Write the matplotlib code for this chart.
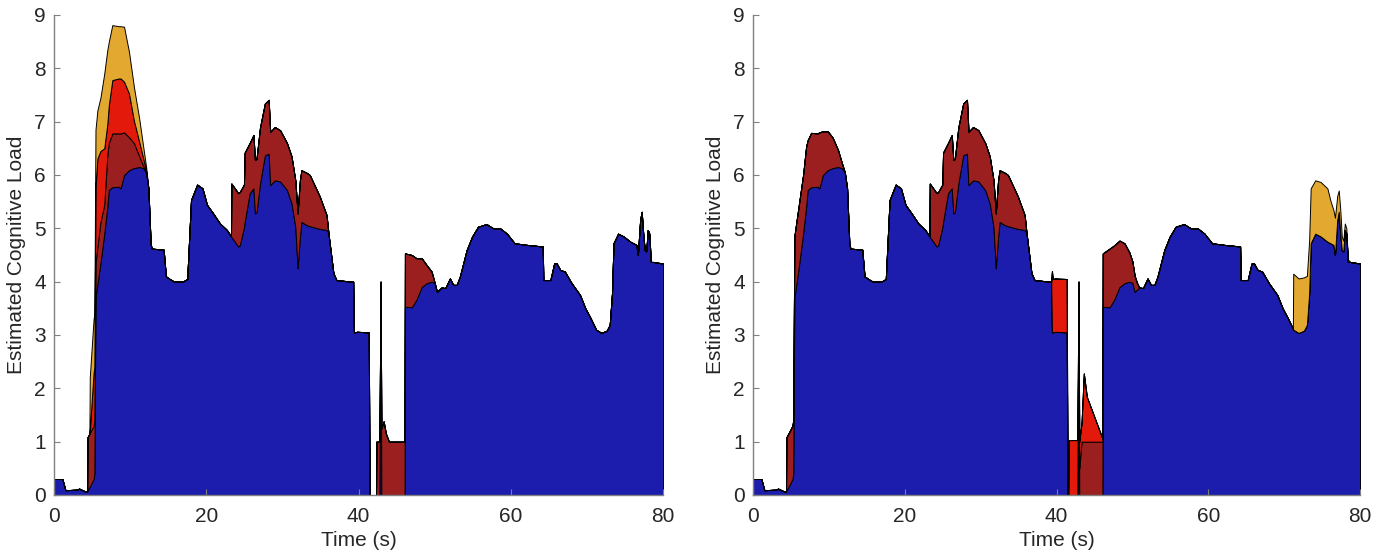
import matplotlib
matplotlib.use('Agg')
import matplotlib.pyplot as plt

# time axis (s), shared by both panels
t = [0.0, 1.1, 1.5, 3.0, 3.3, 4.2, 4.35, 4.40, 4.65, 4.70, 5.20, 5.30,
     5.45, 5.70, 6.10, 6.60, 7.00, 7.20, 7.66, 8.50, 8.75, 9.20, 9.85, 10.5, 11.2, 11.7, 12.1, 12.4,
     12.7, 12.85, 14.4, 14.7, 15.2, 15.8, 16.9, 17.5, 18.0, 18.8, 19.5, 20.1, 20.9, 21.8, 22.7, 23.25,
     23.3, 24.2, 24.4, 24.95, 25.05, 25.7, 26.2, 26.4, 26.6, 27.06, 27.7, 28.2, 28.4, 29.0, 29.7,
     30.6, 31.2, 31.7, 32.0, 32.3, 32.5, 33.2, 33.6, 34.9, 35.8, 36.0, 36.1,
     36.7, 37.1, 39.1, 39.3, 39.4, 39.5, 39.8, 41.35, 41.45, 41.55, 41.6, 42.3, 42.35, 42.75,
     42.9, 43.0, 43.3, 43.6, 44.0, 46.05,
     46.1, 47.0, 47.6, 48.3, 48.95, 49.6, 50.0, 50.3, 50.6, 50.9,
     51.4, 52.0, 52.45, 52.9, 53.3, 54.2, 54.9, 55.7, 56.8, 57.7, 58.6, 59.5, 60.5, 62.1, 64.2,
     64.28, 65.2, 65.7, 66.0, 66.5, 67.1, 68.0, 69.1, 69.8, 70.4, 71.15,
     71.2, 71.9, 72.6, 73.0, 73.3, 73.5, 74.1, 74.8, 75.7, 76.1, 76.5, 76.7, 77.0, 77.2, 77.4,
     77.6, 77.8, 78.0, 78.2, 78.4, 78.7, 80.0]

# base load (same in both panels)
blue = [0.30, 0.30, 0.09, 0.10, 0.12, 0.06, 0.07, 0.08, 0.15, 0.16, 0.30, 0.40,
        3.70, 3.95, 4.35, 4.90, 5.40, 5.72, 5.77, 5.78, 5.75, 6.00, 6.09, 6.13, 6.15, 6.13, 6.05, 5.75,
        4.70, 4.62, 4.60, 4.10, 4.05, 4.00, 4.00, 4.05, 5.53, 5.82, 5.75, 5.44, 5.28, 5.09, 4.97, 4.85,
        4.84, 4.66, 4.68, 5.02, 5.12, 5.66, 5.75, 5.28, 5.30, 5.84, 6.37, 6.40, 5.81, 5.90, 5.88,
        5.72, 5.47, 5.03, 4.25, 4.84, 5.12, 5.06, 5.04, 4.99, 4.97, 4.93, 4.85,
        4.16, 4.03, 4.00, 4.00, 3.05, 3.05, 3.06, 3.05, 0, 0, 0, 0, 0, 0,
        4.00, 0, 0, 0, 0, 0,
        3.53, 3.52, 3.66, 3.90, 3.97, 4.00, 3.98, 3.81, 3.85, 3.89,
        3.88, 4.06, 3.94, 3.94, 4.09, 4.59, 4.84, 5.03, 5.08, 5.00, 5.00, 4.90, 4.72, 4.69, 4.66,
        4.03, 4.03, 4.34, 4.35, 4.22, 4.19, 3.97, 3.75, 3.50, 3.34, 3.12,
        3.10, 3.04, 3.08, 3.19, 3.78, 4.72, 4.90, 4.85, 4.75, 4.72, 4.69, 4.50, 5.16, 5.31, 4.90,
        4.59, 4.57, 4.97, 4.90, 4.37, 4.37, 4.34]

dseg = [1.0, 1.0, 1.0, 0.80, 1.30, 0.94, 1.00, 1.00, 1.00, 1.05, 0.97, 1.01, 1.00, 1.00, 0.96,
        0.88, 0.88, 0.87, 1.03, 1.06, 0.97, 0.98, 0.96, 0.61, 0.28, 0.05, 0]

# left panel extra layers
dred_l = ([0] * 7 + [1.0] * 5 +
          [0.65, 0.70, 0.77, 0.54, 0.97, 0.88, 1.01, 1.00, 1.03, 0.80, 0.62, 0.47, 0.20, 0.05, 0, 0] +
          [0] * 16 + dseg +
          [0] * 12 + [1.0, 1.0, 0, 1.25, 1.38, 1.15, 1.0, 1.0] +
          [1.0, 0.98, 0.78, 0.54, 0.34, 0.19, 0, 0, 0, 0] +
          [0] * 26 + [0] * 22)
red_l = ([0] * 9 + [0.05, 1.0, 1.0] +
         [1.40, 1.66, 1.33, 1.06, 0.58, 0.71, 1.00, 1.03, 1.03, 0.95, 0.82, 0.42, 0.27, 0.15, 0.03, 0] +
         [0] * 121)
orange_l = ([0] * 9 + [1.0, 1.0, 1.0] +
            [1.10, 0.90, 1.00, 1.40, 1.39, 1.19, 1.03, 0.98, 0.98, 1.03, 0.78, 0.63, 0.43, 0.22, 0.07, 0] +
            [0] * 121)

# right panel extra layers
dred_r = ([0] * 7 + [1.0] * 5 +
          [1.15, 1.15, 1.15, 1.10, 1.13, 0.93, 1.02, 1.00, 1.05, 0.82, 0.73, 0.57, 0.32, 0.10, 0, 0] +
          [0] * 16 + dseg +
          [0] * 15 + [0.5, 1.0, 1.0, 1.0, 1.0] +
          [1.0, 1.10, 1.02, 0.87, 0.75, 0.55, 0.40, 0.30, 0.13, 0] +
          [0] * 26 + [0] * 22)
red_r = ([0] * 71 +
         [0, 0, 0, 0, 1.15, 1.0, 1.0, 1.0, 0, 0, 1.03, 1.03, 1.03, 1.03, 0, 0.5, 0.35, 1.28, 0.84, 0.06] +
         [0] * 58)
orange_r = ([0] * 127 +
            [1.05, 1.02, 1.00, 0.92, 1.00, 1.03, 1.00, 1.02, 1.00, 0.80, 0.65, 0.70, 0.45, 0.40, 0.45,
             0.25, 0.20, 0.12, 0.10, 0.05, 0, 0])

colors = ['#1c1cad', '#9c1f1f', '#e3190b', '#e2a830']

plt.rcParams['font.family'] = ['Liberation Sans', 'DejaVu Sans']

fig = plt.figure(figsize=(13.9, 5.54), dpi=100)
ax1 = fig.add_axes([54 / 1390, 59 / 554, 609 / 1390, 480 / 554])
ax2 = fig.add_axes([753 / 1390, 59 / 554, 607 / 1390, 480 / 554])

panels = [(ax1, [blue, dred_l, red_l, orange_l]),
          (ax2, [blue, dred_r, red_r, orange_r])]

for ax, layers in panels:
    ax.stackplot(t, *layers, colors=colors, edgecolor='k', linewidth=0.7)
    ax.set_xlim(0, 80)
    ax.set_ylim(0, 9)
    ax.set_xticks([0, 20, 40, 60, 80])
    ax.set_yticks(range(10))
    for s in ['top', 'right']:
        ax.spines[s].set_visible(False)
    for s in ['left', 'bottom']:
        ax.spines[s].set_color('#808080')
        ax.spines[s].set_linewidth(1.0)
        ax.spines[s].set_zorder(5)
    ax.tick_params(direction='in', length=4, color='#808080', labelsize=15,
                   labelcolor='#262626')
    ax.tick_params(axis='x', pad=9)
    ax.tick_params(axis='y', pad=6)
    ax.set_xlabel('Time (s)', fontsize=15, color='#262626', labelpad=3)
    ax.set_ylabel('Estimated Cognitive Load', fontsize=15, color='#262626', labelpad=6)

fig.savefig('out.png', dpi=100)
